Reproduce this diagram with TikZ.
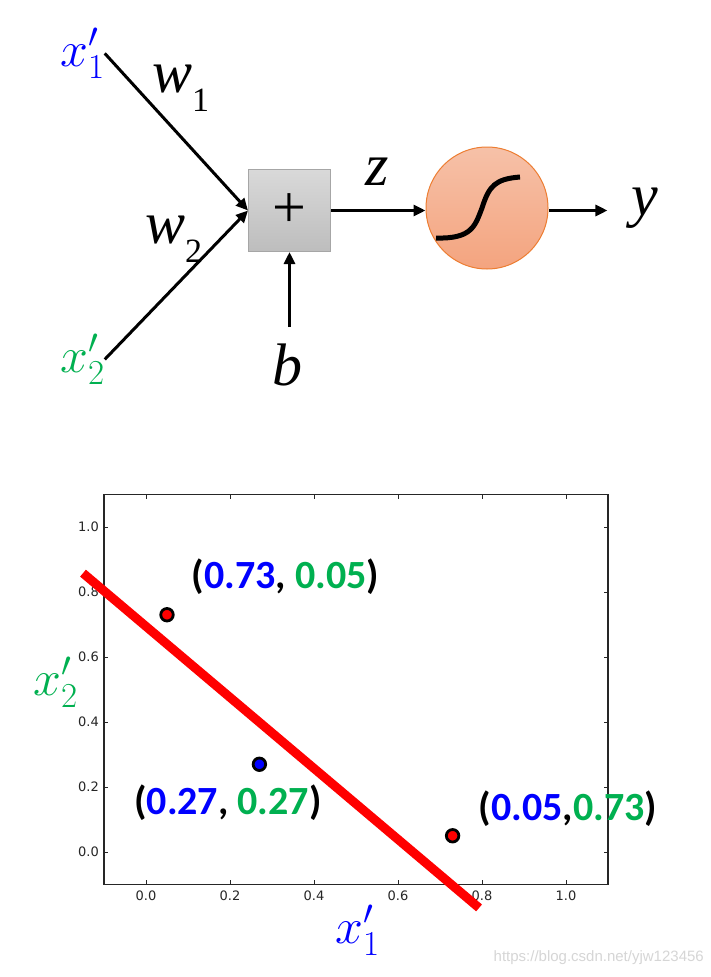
\RequirePackage{fix-cm}
\documentclass[tikz,border=0pt]{standalone}
\usepackage{fontspec}
\usetikzlibrary{calc}
\usetikzlibrary{arrows.meta}
\newfontfamily\timesfont{Liberation Serif}
\newfontfamily\calibrifont{Carlito}
\newfontfamily\tickfont{DejaVu Sans}
\newfontfamily\urlfont{Liberation Sans}
\definecolor{input one colour}{RGB}{0,0,255}
\definecolor{input two colour}{RGB}{0,176,80}
\definecolor{sum top colour}{RGB}{217,217,217}
\definecolor{sum bottom colour}{RGB}{189,189,189}
\definecolor{sum border colour}{RGB}{166,166,166}
\definecolor{act top colour}{RGB}{246,193,168}
\definecolor{act bottom colour}{RGB}{244,164,127}
\definecolor{act border colour}{RGB}{237,125,49}
\colorlet{tick colour}{black!85}
\tikzset{
    % Plain triangular heads, as on the slide
    >={Triangle[length=12pt, width=11pt]},
%
    % Lines of the neuron
    signal/.style={line width=3pt, ->},
    sigmoid/.style={line width=5pt},
%
    % Text styles
    big math/.style={font=\fontsize{50}{50}\selectfont, inner sep=0},
    symbol/.style={font=\timesfont\itshape\fontsize{60}{60}\selectfont,
        inner sep=0},
    coord label/.style={font=\calibrifont\bfseries\fontsize{40}{40}\selectfont,
        inner sep=0},
    tick label/.style={font=\tickfont\fontsize{13}{13}\selectfont,
        text=tick colour, inner sep=0},
%
    % Plot parts
    frame/.style={draw=black!85, line width=1.4pt},
    tick/.style={draw=black!85, line width=0.9pt},
    data point/.style={circle, draw=black, line width=2.8pt,
        minimum size=12.5pt, inner sep=0},
    boundary/.style={draw=red, line width=9pt},
}
% weight with a lowered upright index
\newcommand{\weight}[1]{w\raisebox{-19pt}{\fontsize{34}{34}\selectfont\upshape #1}}

\begin{document}
\begin{tikzpicture}[
    x=1pt, y=-1pt,
    sum box/.style={rectangle, draw=sum border colour, line width=1pt,
        top color=sum top colour, bottom color=sum bottom colour,
        minimum size=82pt, inner sep=0,
        font=\timesfont\fontsize{60}{60}\selectfont},
    act/.style={circle, draw=act border colour, line width=1pt,
        top color=act top colour, bottom color=act bottom colour,
        minimum size=122pt, inner sep=0},
]
\useasboundingbox (0,0) rectangle (711,977);
\path [fill=white] (0,0) rectangle (711,977);


% Neuron
\node [big math, anchor=base west, text=input one colour] (in one)
    at (60,66) {$x'_1$};
\node [big math, anchor=base west, text=input two colour] (in two)
    at (60,372) {$x'_2$};
\node [sum box] (sum) at (289.5,210.5) {+};
\node [act] (sig) at (487,208) {};
\node [symbol, anchor=base west] (w one) at (152,92) {\weight{1}};
\node [symbol, anchor=base west] (w two) at (145,243) {\weight{2}};
\node [symbol, anchor=base] (bias) at (287,385) {b};
\node [symbol, anchor=base] (z label) at (377,185) {z};
\node [symbol, anchor=base] (out) at (645,215) {y};

\draw [signal] (in one.east) -- (sum.west);
\draw [signal] (in two.east) -- (sum.west);
\draw [signal] ([yshift=16pt]bias.north -| sum.south) -- (sum.south);
\draw [signal] (sum.east) -- (sum.east -| sig.west);
\draw [signal, shorten >=24pt] (sig.east |- sum.east) -- (sum.east -| out.west);

\draw [sigmoid]
    ($(sig.center)+(-51,30)$)
    .. controls ($(sig.center)+(-15,31)$) and ($(sig.center)+(-12,18)$)
    .. ($(sig.center)+(-5,0)$)
    .. controls ($(sig.center)+(2,-22)$) and ($(sig.center)+(8,-29)$)
    .. ($(sig.center)+(33,-31)$);


% Plot of the three points
\begin{scope}[shift={(146,852)}, x=420pt, y=325pt]
    \draw [frame] (-0.1,-0.1) rectangle (1.1,1.1);
    \foreach \v [count=\i] in {0.0,0.2,0.4,0.6,0.8,1.0} {
        \draw [tick] (\v,-0.1) -- ++(0pt,4.5pt);
        \draw [tick] (\v,1.1) -- ++(0pt,-4.5pt);
        \draw [tick] (-0.1,\v) -- ++(4.5pt,0pt);
        \draw [tick] (1.1,\v) -- ++(-4.5pt,0pt);
        \path (\v,-0.1) node [tick label, anchor=north, yshift=-6pt]
            (x tick \i) {\v};
        \path (-0.1,\v) node [tick label, anchor=east, xshift=-5pt]
            (y tick \i) {\v};
    }

    \draw [boundary] (-0.15,0.858) -- (0.793,-0.172);

    \node [data point, fill=red] (pt a) at (0.05,0.73) {};
    \node [data point, fill=blue] (pt b) at (0.27,0.27) {};
    \node [data point, fill=red] (pt c) at (0.73,0.05) {};

    \node [coord label] (lbl a) at (0.332,0.846)
        {(\textcolor{input one colour}{0.73}, \textcolor{input two colour}{0.05})};
    \node [coord label] (lbl b) at (0.195,0.151)
        {(\textcolor{input one colour}{0.27}, \textcolor{input two colour}{0.27})};
    \node [coord label] (lbl c) at (1.005,0.132)
        {(\textcolor{input one colour}{0.05},\textcolor{input two colour}{0.73})};
\end{scope}

\node [big math, anchor=base west, text=input one colour] (x axis)
    at (335,943) {$x'_1$};
\node [big math, anchor=base west, text=input two colour] (y axis)
    at (33,695) {$x'_2$};

\node [font=\urlfont\fontsize{15}{15}\selectfont, text=black!16, anchor=east,
    inner sep=0] (watermark) at (704,958) {https://blog.csdn.net/yjw123456};

\end{tikzpicture}
\end{document}
